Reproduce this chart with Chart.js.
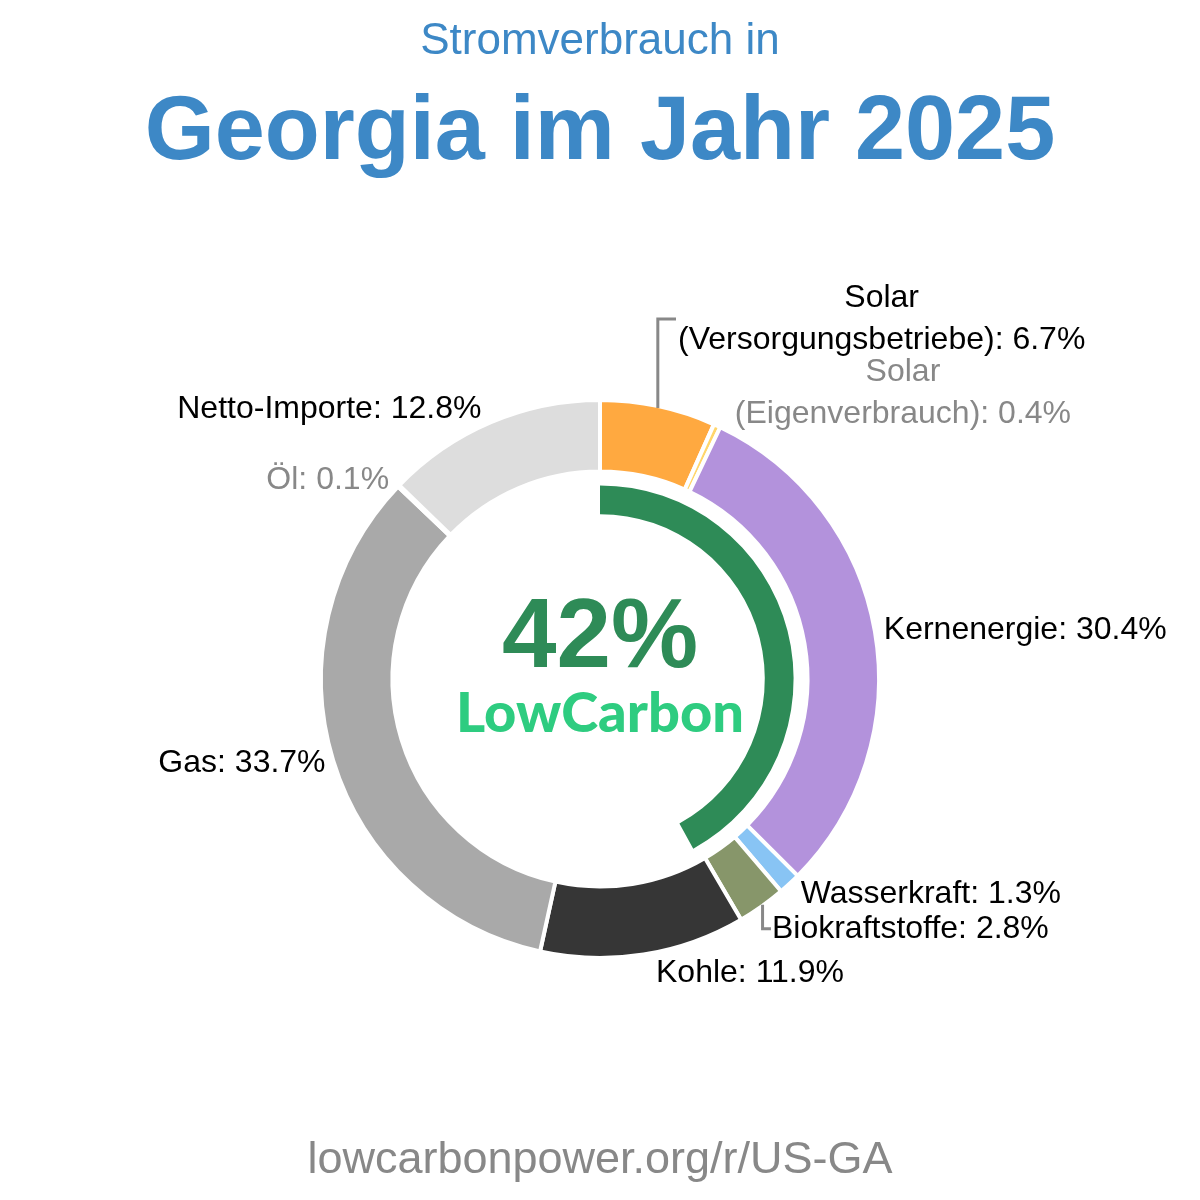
<!DOCTYPE html>
<html>
<head>
<meta charset="utf-8">
<script src="https://cdn.jsdelivr.net/npm/chart.js@4/dist/chart.umd.min.js"></script>
<style>
  html, body { margin: 0; padding: 0; background: #fff; }
  #wrap { width: 1200px; height: 1200px; position: relative; }
</style>
</head>
<body>
<div id="wrap"><canvas id="chart" width="1200" height="1200"></canvas></div>
<script>
// ==================== Data ====================
const sources = [
  'Solar\n(Versorgungsbetriebe)',
  'Solar\n(Eigenverbrauch)',
  'Kernenergie',
  'Wasserkraft',
  'Biokraftstoffe',
  'Kohle',
  'Gas',
  'Öl',
  'Netto-Importe'
];
const shares = [6.7, 0.4, 30.4, 1.3, 2.8, 11.9, 33.7, 0.1, 12.8];
const colors = ['#ffa940', '#ffd66b', '#b392dc', '#88c4f4', '#87966a', '#363636', '#a9a9a9', '#555555', '#dddddd'];
const labelColors = ['#000', '#888', '#000', '#000', '#000', '#000', '#000', '#888', '#000'];
const lowCarbonShare = 42;

const FONT = '"Liberation Sans", Arial, sans-serif';

// per label placement tweaks (px, relative to point just outside the ring)
const labelLayout = [
  { leader: 'up' },
  { dx: 14, dy: -24 },
  { dx: 0, dy: 0 },
  { dx: 5, dy: 4 },
  { dx: 5, dy: 15, leader: 'down' },
  { dx: 11, dy: 10 },
  { dx: 1, dy: 0 },
  { dx: -3, dy: 0 },
  { dx: -6, dy: -5 }
];

// ==================== Plugins ====================
const textPlugin = {
  id: 'texts',
  afterDraw(chart) {
    const ctx = chart.ctx;
    const meta = chart.getDatasetMeta(0);
    ctx.save();

    // titles
    ctx.textAlign = 'center';
    ctx.textBaseline = 'middle';
    ctx.fillStyle = '#3d88c6';
    ctx.font = '44px ' + FONT;
    ctx.fillText('Stromverbrauch in', 600, 42);
    ctx.font = 'bold 90px ' + FONT;
    ctx.fillText('Georgia im Jahr 2025', 600, 134);

    ctx.fillStyle = '#888';
    ctx.font = '45px ' + FONT;
    ctx.fillText('lowcarbonpower.org/r/US-GA', 600, 1161);

    // centre
    ctx.fillStyle = '#2e8b57';
    ctx.font = 'bold 98px ' + FONT;
    ctx.fillText(lowCarbonShare + '%', 600, 640);
    ctx.fillStyle = '#2ecc80';
    ctx.font = '900 56px Lato, ' + FONT;
    ctx.fillText('LowCarbon', 600, 714);

    // slice labels
    ctx.font = '32px ' + FONT;
    const lineH = 42;
    meta.data.forEach((arc, i) => {
      const a = (arc.startAngle + arc.endAngle) / 2;
      const cx = arc.x, cy = arc.y, r = arc.outerRadius - 2;
      const lines = (sources[i] + ': ' + shares[i].toFixed(1) + '%').split('\n');
      const lay = labelLayout[i];
      const widths = lines.map(l => ctx.measureText(l).width);
      const bw = Math.max(...widths);
      const bh = lineH * lines.length;
      ctx.fillStyle = labelColors[i];

      if (lay.leader === 'up') {
        const ex = cx + r * Math.cos(a), ey = cy + r * Math.sin(a);
        const ly = 319, lx = 676;
        ctx.strokeStyle = '#888';
        ctx.lineWidth = 3;
        ctx.beginPath();
        ctx.moveTo(ex, ey);
        ctx.lineTo(ex, ly);
        ctx.lineTo(lx, ly);
        ctx.stroke();
        const left = lx + 2;
        ctx.textAlign = 'center';
        lines.forEach((l, k) => ctx.fillText(l, left + bw / 2, ly - bh / 2 + lineH * (k + 0.5)));
        return;
      }

      const px = cx + (r + 11) * Math.cos(a) + lay.dx;
      const py = cy + (r + 11) * Math.sin(a) + lay.dy;
      const right = Math.cos(a) >= -0.05;

      if (lay.leader === 'down') {
        const ex = cx + r * Math.cos(a), ey = cy + r * Math.sin(a);
        ctx.strokeStyle = '#888';
        ctx.lineWidth = 3;
        ctx.beginPath();
        ctx.moveTo(ex + 2, ey);
        ctx.lineTo(ex + 2, py);
        ctx.lineTo(px - 1, py);
        ctx.stroke();
      }

      const left = right ? px : px - bw;
      ctx.textAlign = 'center';
      lines.forEach((l, k) => ctx.fillText(l, left + bw / 2, py - bh / 2 + lineH * (k + 0.5)));
    });
    ctx.restore();
  }
};

// ==================== Chart ====================
const total = shares.reduce((s, v) => s + v, 0);

new Chart(document.getElementById('chart'), {
  type: 'doughnut',
  data: {
    labels: sources,
    datasets: [
      {
        data: shares,
        backgroundColor: colors,
        borderColor: '#fff',
        borderWidth: 4,
        weight: 72
      },
      {
        data: [total],
        backgroundColor: 'rgba(0,0,0,0)',
        borderWidth: 0,
        weight: 14
      },
      {
        data: [lowCarbonShare, 100 - lowCarbonShare],
        backgroundColor: ['#2e8b57', 'rgba(0,0,0,0)'],
        borderWidth: 0,
        weight: 29
      }
    ]
  },
  options: {
    responsive: false,
    animation: false,
    cutout: '59.07%',
    layout: { padding: { left: 319, right: 319, top: 398, bottom: 240 } },
    plugins: {
      legend: { display: false },
      tooltip: { enabled: false }
    },
    events: []
  },
  plugins: [textPlugin]
});
</script>
</body>
</html>
